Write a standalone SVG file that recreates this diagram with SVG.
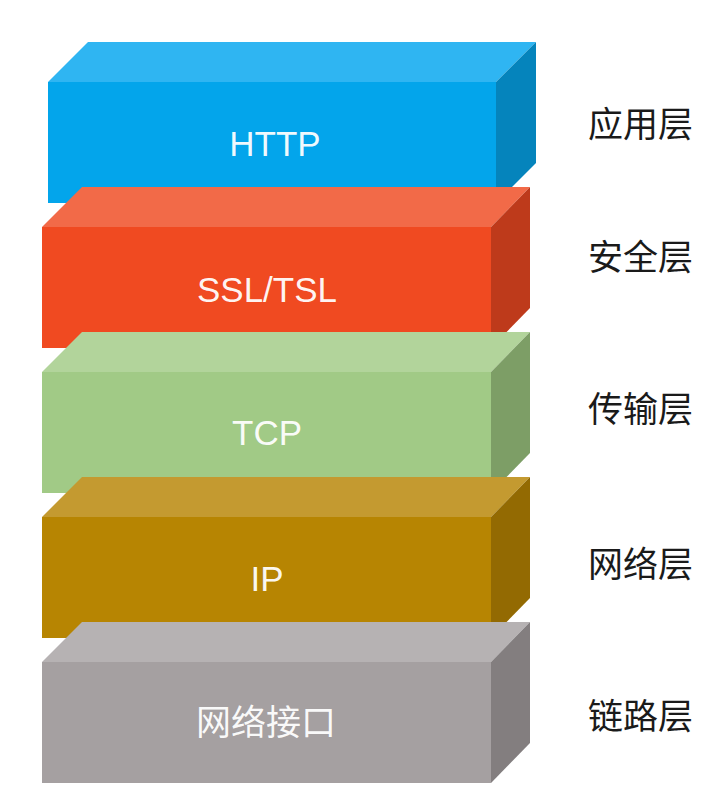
<svg xmlns="http://www.w3.org/2000/svg" width="721" height="806" viewBox="0 0 721 806">
<style>
.lbl{font-family:"Liberation Sans","Noto Sans CJK SC",sans-serif;font-size:35px;fill:#FFFFFF;fill-opacity:0.95;text-anchor:middle}
.side{font-family:"Noto Sans CJK SC",sans-serif;font-size:35px;fill:#1a1a1a;text-anchor:start}
</style>
<rect width="721" height="806" fill="#FFFFFF"/>
<g id="http">
<polygon points="48,82 88,42 536,42 496,82" fill="#2FB5F2"/>
<polygon points="496,82 536,42 536,163 496,203" fill="#0584BC"/>
<rect x="48" y="82" width="448" height="121" fill="#03A5EB"/>
<text class="lbl" x="275" y="156">HTTP</text>
</g>
<g id="ssl">
<polygon points="42,227 82,187 530,187 491,227" fill="#F26A48"/>
<polygon points="491,227 530,187 530,308 491,348" fill="#BE3A1B"/>
<rect x="42" y="227" width="449" height="121" fill="#F04A21"/>
<text class="lbl" x="267" y="302">SSL/TSL</text>
</g>
<g id="tcp">
<polygon points="42,372 82,332 530,332 491,372" fill="#B2D49B"/>
<polygon points="491,372 530,332 530,453 491,493" fill="#7D9E66"/>
<rect x="42" y="372" width="449" height="121" fill="#A1CA86"/>
<text class="lbl" x="267" y="445">TCP</text>
</g>
<g id="ip">
<polygon points="42,517 82,477 530,477 491,517" fill="#C49A30"/>
<polygon points="491,517 530,477 530,598 491,638" fill="#936A02"/>
<rect x="42" y="517" width="449" height="121" fill="#B78502"/>
<text class="lbl" x="267" y="591">IP</text>
</g>
<g id="netif">
<polygon points="42,662 82,622 530,622 491,662" fill="#B6B2B3"/>
<polygon points="491,662 530,622 530,743 491,783" fill="#837E7F"/>
<rect x="42" y="662" width="449" height="121" fill="#A5A0A1"/>
<text class="lbl" x="266" y="735">网络接口</text>
</g>
<g id="labels">
<text class="side" x="588" y="137">应用层</text>
<text class="side" x="588" y="270">安全层</text>
<text class="side" x="588" y="422">传输层</text>
<text class="side" x="588" y="577">网络层</text>
<text class="side" x="588" y="729">链路层</text>
</g>
<g id="connectors"></g>
</svg>
